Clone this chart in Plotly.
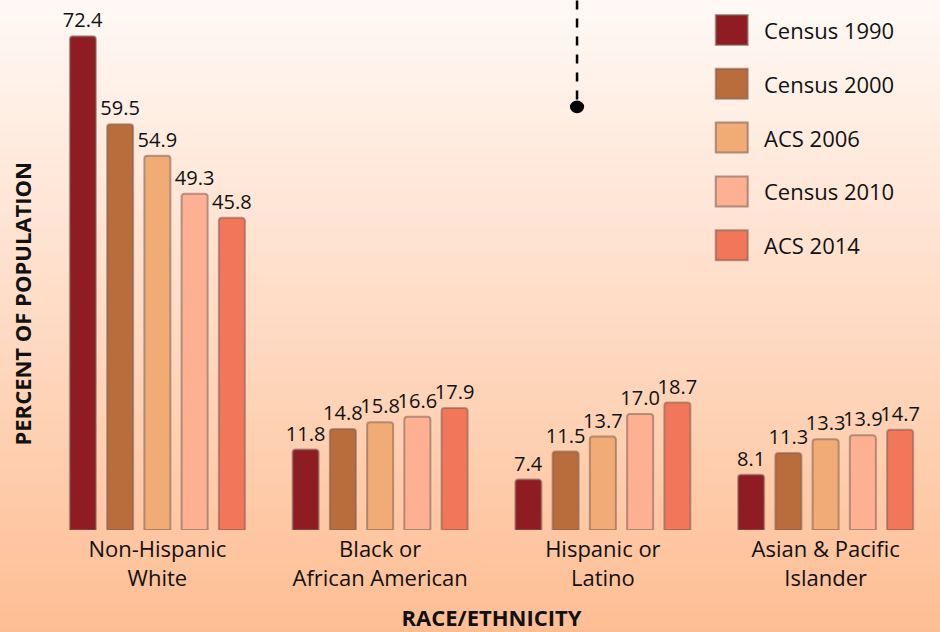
import plotly.graph_objects as go

categories = ["Non-Hispanic<br>White", "Black or<br>African American",
              "Hispanic or<br>Latino", "Asian & Pacific<br>Islander"]
series_names = ["Census 1990", "Census 2000", "ACS 2006", "Census 2010", "ACS 2014"]
census_1990 = [72.4, 11.8, 7.4, 8.1]
census_2000 = [59.5, 14.8, 11.5, 11.3]
acs_2006 = [54.9, 15.8, 13.7, 13.3]
census_2010 = [49.3, 16.6, 17.0, 13.9]
acs_2014 = [45.8, 17.9, 18.7, 14.7]
series_values = [census_1990, census_2000, acs_2006, census_2010, acs_2014]
colors = ["#8E1C22", "#B96C3C", "#F1AB74", "#FDB092", "#F2765A"]

FONT = "Open Sans"

fig = go.Figure()
for name, vals, col in zip(series_names, series_values, colors):
    fig.add_trace(go.Bar(
        x=categories, y=vals, name=name,
        marker=dict(color=col, line=dict(color="rgba(125,95,85,0.55)", width=2),
                    cornerradius=3),
        text=[f"{v:.1f}" for v in vals], textposition="outside",
        constraintext="none",
        textfont=dict(family=FONT, size=20, color="#111111"),
        cliponaxis=False, showlegend=False,
    ))

# gradient background
shapes = []
top = (255, 249, 246)
bot = (254, 190, 148)
n = 80
y_lo, y_hi = -0.2, 1.02
for i in range(n):
    t = i / (n - 1)
    c = tuple(round(top[k] + (bot[k] - top[k]) * t) for k in range(3))
    y1 = y_hi - (y_hi - y_lo) * i / n
    y0 = y_hi - (y_hi - y_lo) * (i + 1) / n
    shapes.append(dict(type="rect", xref="paper", yref="paper", x0=-0.1, x1=1.1,
                       y0=y0 - 0.002, y1=y1 + 0.002, fillcolor="rgb(%d,%d,%d)" % c,
                       line=dict(width=0), layer="below"))

# dashed leader line with dot
shapes.append(dict(type="line", xref="paper", yref="paper", x0=0.596, x1=0.596,
                   y0=0.82, y1=1.02, line=dict(color="black", width=2.5, dash="dash")))
shapes.append(dict(type="circle", xref="paper", yref="paper", x0=0.588, x1=0.604,
                   y0=0.794, y1=0.818, fillcolor="black", line=dict(width=0)))

# custom legend
annotations = []
W, H = 892, 525
for i, (name, col) in enumerate(zip(series_names, colors)):
    cy = 30 + i * 53.8
    x0p, x1p = (716 - 45.5) / W, (748 - 45.5) / W
    y_c = 1 - (cy - 5) / H
    hh = 15 / H
    shapes.append(dict(type="rect", xref="paper", yref="paper", x0=x0p, x1=x1p,
                       y0=y_c - hh, y1=y_c + hh, fillcolor=col,
                       line=dict(color="rgba(125,95,85,0.6)", width=2)))
    annotations.append(dict(xref="paper", yref="paper", x=(762 - 45.5) / W, y=y_c,
                            text=name, showarrow=False, xanchor="left", yanchor="middle",
                            font=dict(family=FONT, size=22, color="#111111")))

# y-axis title (placed as in the reference, lower than plot centre)
annotations.append(dict(xref="paper", yref="paper", x=(21 - 45.5) / W,
                        y=1 - (304 - 5) / H, text="<b>PERCENT OF POPULATION</b>",
                        textangle=-90, showarrow=False, xanchor="center", yanchor="middle",
                        font=dict(family=FONT, size=22, color="#111111")))

fig.update_layout(
    width=940, height=632,
    margin=dict(l=45.5, r=2.5, t=5, b=102),
    paper_bgcolor="rgb(255,228,212)", plot_bgcolor="rgba(0,0,0,0)",
    barmode="group", bargap=0.164, bargroupgap=0.30,
    shapes=shapes, annotations=annotations,
    font=dict(family=FONT, color="#111111"),
    xaxis=dict(showgrid=False, zeroline=False, showline=False, ticks="",
               tickfont=dict(family=FONT, size=22, color="#111111"),
               ticklabelstandoff=4,
               title=dict(text="<b>RACE/ETHNICITY</b>", standoff=22,
                          font=dict(family=FONT, size=22, color="#111111")),
               automargin=False),
    yaxis=dict(range=[0, 77], showgrid=False, zeroline=False, showline=False,
               showticklabels=False, ticks="", automargin=False),
)

fig.write_html("out.html")
